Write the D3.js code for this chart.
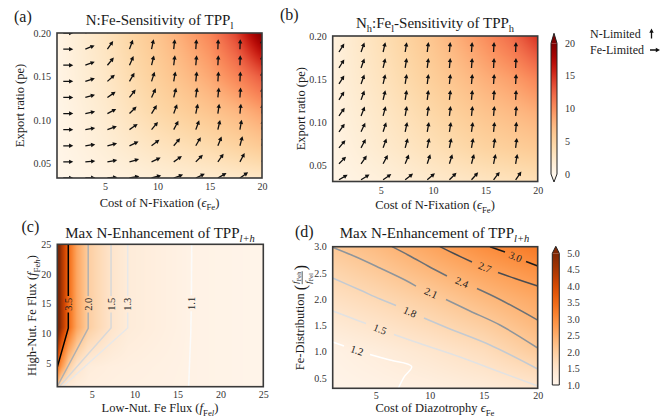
<!DOCTYPE html>
<html>
<head>
<meta charset="utf-8">
<script src="https://cdn.jsdelivr.net/npm/d3@7"></script>
<style>
  body { margin: 0; background: #fff; }
  svg { font-family: "Liberation Serif", "DejaVu Serif", serif; }
</style>
</head>
<body>
<div id="chart"></div>
<script>
// ---- data ----

// quiver grid of panels (a) and (b)
const costEps = [1, 3.11, 5.22, 7.33, 9.44, 11.56, 13.67, 15.78, 17.89, 20];
const exportPe = [0.033, 0.0516, 0.0701, 0.0887, 0.1072, 0.1258, 0.1443, 0.1629, 0.1814, 0.2];

// arrow direction in degrees (0 = Fe-limited / right, 90 = N-limited / up), rows follow exportPe
const angleA = [
  [0, 2, 5, 10, 15, 20, 25, 30, 35, 40],
  [0, 5, 10, 16, 25, 35, 45, 55, 62, 68],
  [0, 8, 15, 25, 38, 50, 60, 68, 75, 78],
  [0, 10, 20, 35, 50, 62, 70, 77, 80, 83],
  [0, 12, 28, 45, 58, 70, 78, 82, 84, 86],
  [0, 15, 35, 52, 65, 76, 82, 84, 86, 87],
  [0, 18, 42, 60, 72, 80, 84, 86, 87, 88],
  [0, 20, 50, 66, 76, 83, 85, 87, 88, 88],
  [0, 22, 55, 70, 78, 84, 86, 88, 88, 89],
  [0, 22, 55, 72, 80, 85, 87, 88, 89, 89]
];
const angleB = [
  [30, 32, 35, 38, 40, 45, 48, 52, 55],
  [45, 55, 62, 68, 72, 73, 75, 78, 80],
  [50, 62, 70, 75, 78, 79, 80, 82, 83],
  [55, 65, 72, 78, 80, 81, 82, 84, 85],
  [55, 68, 75, 80, 82, 83, 84, 85, 86],
  [58, 70, 77, 81, 83, 84, 85, 86, 87],
  [58, 70, 77, 81, 83, 84, 85, 86, 87],
  [58, 70, 77, 81, 83, 85, 86, 87, 88],
  [58, 70, 77, 81, 83, 85, 86, 87, 88],
  [58, 70, 77, 81, 83, 85, 86, 87, 88]
];

// background sensitivity (panels a, b)
const heatXAB = [0.4, 5, 10, 15, 17.5, 20];
const heatYAB = [0.033, 0.07, 0.11, 0.15, 0.2];
const heatA = [
  [0.2, 0.8, 1.5, 2.0, 2.3, 2.6],
  [0.3, 1.5, 3.0, 4.2, 5.0, 6.0],
  [0.3, 2.0, 4.5, 6.5, 7.5, 9.0],
  [0.5, 2.5, 5.5, 8.5, 10.5, 13.0],
  [0.5, 3.0, 6.5, 10.5, 14.0, 20.0]
];
const heatB = [
  [0.4, 1.2, 2.2, 3.0, 3.3, 3.6],
  [0.6, 2.0, 3.5, 5.0, 5.5, 6.0],
  [0.8, 2.5, 4.5, 6.5, 7.2, 8.0],
  [1.0, 3.0, 5.5, 8.0, 9.0, 10.5],
  [1.0, 3.5, 6.5, 10.0, 12.0, 15.0]
];

// panel (c): max N-enhancement vs Fe fluxes
const heatXC = [1, 1.5, 2.3, 3.3, 4.6, 7.3, 9.2, 16.5, 25];
const heatYC = [1, 4.4, 11, 25];
const heatC = [
  [2.1, 1.45, 1.27, 1.22, 1.2, 1.17, 1.15, 1.1, 1.03],
  [3.5, 2.8, 1.98, 1.5, 1.27, 1.2, 1.18, 1.1, 1.03],
  [5.5, 4.5, 3.5, 2.6, 2.0, 1.5, 1.3, 1.1, 1.03],
  [5.5, 4.5, 3.5, 2.6, 2.0, 1.5, 1.3, 1.1, 1.03]
];
const levelsC = ["3.5", "2.0", "1.5", "1.3", "1.1"];
const contourC = [
  [[[2.28, 25], [2.28, 16.3]], [[2.28, 13.5], [2.28, 10.85], [1, 4.3]]],
  [[[4.6, 25], [4.6, 16.3]], [[4.6, 13.5], [4.6, 10.85], [1.05, 1.2]]],
  [[[7.26, 25], [7.26, 16.3]], [[7.26, 13.5], [7.26, 10.9], [1.25, 1.05]]],
  [[[9.2, 25], [9.2, 16.3]], [[9.2, 13.5], [9.2, 10.9], [1.6, 1]]],
  [[[16.66, 25], [16.62, 16.4]], [[16.6, 13.7], [16.55, 10], [16.3, 1]]]
];

// panel (d): max N-enhancement vs diazotrophy cost and Fe distribution
const heatXD = [1, 5, 10, 15, 20];
const heatYD = [0.3, 1.0, 1.5, 2.0, 2.5, 3.0];
const heatD = [
  [1.05, 1.1, 1.18, 1.3, 1.46],
  [1.12, 1.25, 1.45, 1.68, 2.05],
  [1.36, 1.52, 1.75, 2.0, 2.34],
  [1.61, 1.78, 2.02, 2.31, 2.58],
  [1.85, 2.05, 2.33, 2.62, 2.9],
  [2.1, 2.3, 2.63, 2.98, 3.29]
];
const levelsD = ["3.0", "2.7", "2.4", "2.1", "1.8", "1.5", "1.2"];
const contourD = [
  [[[15.58, 3.0], [16.97, 2.899]], [[18.92, 2.718], [20, 2.632]]],
  [[[10.94, 3.0], [12.33, 2.861], [13.91, 2.708]], [[16.32, 2.508], [17.9, 2.394], [20, 2.251]]],
  [[[6.5, 3.0], [8.16, 2.823], [9.83, 2.632], [11.59, 2.441]], [[14.37, 2.203], [16.5, 1.994], [20, 1.6]]],
  [[[1.03, 2.985], [3.07, 2.813], [5.38, 2.594], [7.7, 2.365], [8.72, 2.249]], [[11.5, 1.993], [13.72, 1.774], [16.5, 1.507], [20, 1.068]]],
  [[[1, 2.403], [3.53, 2.174], [5.38, 2.003], [6.87, 1.879]], [[9.46, 1.64], [11.87, 1.431], [15.58, 1.126], [20, 0.668]]],
  [[[1, 1.774], [2.6, 1.65], [4.09, 1.535]], [[6.68, 1.326], [9.09, 1.154], [12.8, 0.897], [16.5, 0.611], [20, 0.344]]],
  [[[1, 1.183], [2.05, 1.107]], [[4.46, 0.944], [6.31, 0.839], [8.32, 0.715], [7.61, 0.515], [7.08, 0.3]]]
];

// tick labels
const ticksCost = [5, 10, 15, 20];
const ticksPe = [0.05, 0.10, 0.15, 0.20];
const ticksFlux = [5, 10, 15, 20, 25];
const ticksDist = [0.5, 1.0, 1.5, 2.0, 2.5, 3.0];
const ticksBarTop = [0, 5, 10, 15, 20];
const ticksBarBottom = [1.0, 1.5, 2.0, 2.5, 3.0, 3.5, 4.0, 4.5, 5.0];

// ---- drawing ----
const W = 664, H = 417;
const svg = d3.select("#chart").append("svg").attr("width", W).attr("height", H);
const defs = svg.append("defs");

const colorOrRd = d3.scaleSequential(d3.interpolateOrRd).domain([0, 20]).clamp(true);
const colorOr = d3.scaleSequential(d3.interpolateOranges).domain([1, 5]).clamp(true);

function bilerp(xs, ys, grid, vx, vy) {
  let i = Math.max(0, Math.min(xs.length - 2, d3.bisectRight(xs, vx) - 1));
  let j = Math.max(0, Math.min(ys.length - 2, d3.bisectRight(ys, vy) - 1));
  let t = Math.max(0, Math.min(1, (vx - xs[i]) / (xs[i + 1] - xs[i])));
  let u = Math.max(0, Math.min(1, (vy - ys[j]) / (ys[j + 1] - ys[j])));
  return (1 - t) * (1 - u) * grid[j][i] + t * (1 - u) * grid[j][i + 1] +
         (1 - t) * u * grid[j + 1][i] + t * u * grid[j + 1][i + 1];
}

function heat(g, x, y, xs, ys, grid, color) {
  const x0 = x.range()[0], y0 = y.range()[1];
  const w = Math.round(x.range()[1] - x0), h = Math.round(y.range()[0] - y0);
  const cv = document.createElement("canvas");
  cv.width = w; cv.height = h;
  const ctx = cv.getContext("2d");
  const img = ctx.createImageData(w, h);
  for (let j = 0; j < h; j++) {
    const vy = y.invert(y0 + j + 0.5);
    for (let i = 0; i < w; i++) {
      const c = d3.rgb(color(bilerp(xs, ys, grid, x.invert(x0 + i + 0.5), vy)));
      const k = (j * w + i) * 4;
      img.data[k] = c.r; img.data[k + 1] = c.g; img.data[k + 2] = c.b; img.data[k + 3] = 255;
    }
  }
  ctx.putImageData(img, 0, 0);
  g.append("image").attr("x", x0).attr("y", y0).attr("width", w).attr("height", h)
    .attr("preserveAspectRatio", "none").attr("href", cv.toDataURL());
}

// rich text: parts = [{t, sub, it}]
function rich(sel, parts, size) {
  let shift = 0;
  parts.forEach(p => {
    const target = p.sub ? size * 0.28 : 0;
    const s = sel.append("tspan").text(p.t).attr("dy", target - shift);
    shift = target;
    if (p.sub) s.attr("font-size", size * 0.7);
    if (p.it) s.attr("font-style", "italic");
  });
  return sel;
}

function panel(cfg) {
  const x = d3.scaleLinear().domain(cfg.xDomain).range([cfg.l, cfg.r]);
  const y = d3.scaleLinear().domain(cfg.yDomain).range([cfg.b, cfg.t]);
  const g = svg.append("g");
  defs.append("clipPath").attr("id", "clip-" + cfg.id).append("rect")
    .attr("x", cfg.l).attr("y", cfg.t).attr("width", cfg.r - cfg.l).attr("height", cfg.b - cfg.t);
  heat(g, x, y, cfg.heatX, cfg.heatY, cfg.heat, cfg.color);
  const inner = g.append("g").attr("clip-path", "url(#clip-" + cfg.id + ")");

  // axes (no tick marks, seaborn-white look)
  const ax = g.append("g").attr("transform", "translate(0," + cfg.b + ")")
    .call(d3.axisBottom(x).tickValues(cfg.xTicks).tickSize(0).tickPadding(cfg.xPad).tickFormat(cfg.xFmt));
  const ay = g.append("g").attr("transform", "translate(" + cfg.l + ",0)")
    .call(d3.axisLeft(y).tickValues(cfg.yTicks).tickSize(0).tickPadding(6).tickFormat(cfg.yFmt));
  [ax, ay].forEach(a => {
    a.attr("font-family", null).attr("font-size", null);
    a.select(".domain").remove();
    a.selectAll("text").attr("font-size", 10).attr("fill", "#333");
  });

  return {x, y, g, inner};
}

function frame(p, cfg) {
  p.g.append("rect").attr("x", cfg.l).attr("y", cfg.t)
    .attr("width", cfg.r - cfg.l).attr("height", cfg.b - cfg.t)
    .attr("fill", "none").attr("stroke", "#3a3a3a").attr("stroke-width", 1.6);
}

function label(x, y, parts, size, opts = {}) {
  const t = svg.append("text").attr("x", x).attr("y", y).attr("font-size", size)
    .attr("fill", "#1a1a1a").attr("text-anchor", opts.anchor || "middle");
  if (opts.rotate) t.attr("transform", "rotate(-90," + x + "," + y + ")");
  return rich(t, parts, size);
}

// arrow shape pointing along +x from the tail
const L = 10, hl = 4.2, hw = 2.2, sw = 0.65;
const arrowPath = `M0,${-sw}L${L - hl},${-sw}L${L - hl},${-hw}L${L},0L${L - hl},${hw}L${L - hl},${sw}L0,${sw}Z`;

function quiver(p, angles) {
  exportPe.forEach((pe, j) => {
    costEps.forEach((c, i) => {
      const a = angles[j][i];
      if (a === undefined) return;
      p.inner.append("path").attr("d", arrowPath).attr("fill", "#111")
        .attr("transform", `translate(${p.x(c)},${p.y(pe)}) rotate(${-a})`);
    });
  });
}

const fmt2 = d3.format(".2f"), fmt1 = d3.format(".1f"), fmt0 = d3.format("d");

// ---------- panel (a) ----------
const cfgA = {id: "a", l: 57, r: 262, t: 33, b: 178, xDomain: [0.4, 20], yDomain: [0.033, 0.2],
  heatX: heatXAB, heatY: heatYAB, heat: heatA, color: colorOrRd, xPad: 5,
  xTicks: ticksCost, yTicks: ticksPe, xFmt: fmt0, yFmt: fmt2};
const pA = panel(cfgA);
quiver(pA, angleA);
frame(pA, cfgA);

// ---------- panel (b) ----------
const cfgB = {id: "b", l: 332.7, r: 537.7, t: 36, b: 181.5, xDomain: [0.4, 20], yDomain: [0.031, 0.2],
  heatX: heatXAB, heatY: heatYAB, heat: heatB, color: colorOrRd, xPad: 5,
  xTicks: ticksCost, yTicks: ticksPe, xFmt: fmt0, yFmt: fmt2};
const pB = panel(cfgB);
quiver(pB, angleB);
frame(pB, cfgB);

// ---------- panel (c) ----------
const cfgC = {id: "c", l: 57.3, r: 263.3, t: 244.3, b: 386.7, xDomain: [1, 25], yDomain: [1, 25],
  heatX: heatXC, heatY: heatYC, heat: heatC, color: colorOr, xPad: 4,
  xTicks: ticksFlux, yTicks: ticksFlux, xFmt: fmt0, yFmt: fmt0};
const pC = panel(cfgC);
const strokeC = ["#000000", "#b0b0b0", "#d8d8d8", "#e8e8e8", "#fbfbfb"];
const lineC = d3.line().x(d => pC.x(d[0])).y(d => pC.y(d[1]));
contourC.forEach((segs, k) => {
  segs.forEach(s => pC.inner.append("path").attr("d", lineC(s)).attr("fill", "none")
    .attr("stroke", strokeC[k]).attr("stroke-width", 1.5));
  const lx = pC.x(segs[0][1][0]), ly = (pC.y(segs[0][1][1]) + pC.y(segs[1][0][1])) / 2;
  pC.inner.append("text").attr("x", lx).attr("y", ly).attr("dy", "0.35em")
    .attr("text-anchor", "middle").attr("font-size", 10.5).attr("fill", "#222")
    .attr("transform", `rotate(-90,${lx},${ly})`).text(levelsC[k]);
});
frame(pC, cfgC);

// ---------- panel (d) ----------
const cfgD = {id: "d", l: 332.7, r: 537.7, t: 246.7, b: 388.3, xDomain: [1, 20], yDomain: [0.3, 3.0],
  heatX: heatXD, heatY: heatYD, heat: heatD, color: colorOr, xPad: 4,
  xTicks: ticksCost, yTicks: ticksDist, xFmt: fmt0, yFmt: fmt1};
const pD = panel(cfgD);
const strokeD = ["#1b1b1b", "#4a4c50", "#6c7176", "#8e959b", "#c3cad2", "#e2e2e2", "#ffffff"];
const lineD = d3.line().x(d => pD.x(d[0])).y(d => pD.y(d[1])).curve(d3.curveCatmullRom.alpha(0.5));
contourD.forEach((segs, k) => {
  segs.forEach(s => pD.inner.append("path").attr("d", lineD(s)).attr("fill", "none")
    .attr("stroke", strokeD[k]).attr("stroke-width", 1.5));
  const a = segs[0][segs[0].length - 1], b = segs[1][0];
  const ax = pD.x(a[0]), ay = pD.y(a[1]), bx = pD.x(b[0]), by = pD.y(b[1]);
  const ang = Math.atan2(by - ay, bx - ax) * 180 / Math.PI;
  const lx = (ax + bx) / 2, ly = (ay + by) / 2;
  pD.inner.append("text").attr("x", lx).attr("y", ly).attr("dy", "0.35em")
    .attr("text-anchor", "middle").attr("font-size", 10.5).attr("fill", "#222")
    .attr("transform", `rotate(${ang},${lx},${ly})`).text(levelsD[k]);
});
frame(pD, cfgD);

// ---------- titles and axis labels ----------
const eps = [{t: "Cost of N-Fixation ("}, {t: "\u03F5", it: 1}, {t: "Fe", sub: 1}, {t: ")"}];
label(14, 21.5, [{t: "(a)"}], 16, {anchor: "start"});
label(280, 20, [{t: "(b)"}], 16, {anchor: "start"});
label(21.5, 231.5, [{t: "(c)"}], 16, {anchor: "start"});
label(295, 236.5, [{t: "(d)"}], 16, {anchor: "start"});

label(159.5, 25, [{t: "N:Fe-Sensitivity of TPP"}, {t: "l", sub: 1}], 15);
label(435, 27.5, [{t: "N"}, {t: "h", sub: 1}, {t: ":Fe"}, {t: "l", sub: 1}, {t: "-Sensitivity of TPP"}, {t: "h", sub: 1}], 15);
label(160, 238, [{t: "Max N-Enhancement of TPP"}, {t: "l+h", sub: 1, it: 1}], 15);
label(434.5, 238, [{t: "Max N-Enhancement of TPP"}, {t: "l+h", sub: 1, it: 1}], 15);

label(159.5, 206.5, eps, 12.5);
label(435, 209, eps, 12.5);
label(24, 105.5, [{t: "Export ratio (pe)"}], 12.5, {rotate: 1});
label(305.5, 108.7, [{t: "Export ratio (pe)"}], 12.5, {rotate: 1});

label(160, 412, [{t: "Low-Nut. Fe Flux ("}, {t: "f", it: 1}, {t: "Fe", sub: 1}, {t: "l", sub: 1, it: 1}, {t: ")"}], 12.5);
label(36, 315.5, [{t: "High-Nut. Fe Flux ("}, {t: "f", it: 1}, {t: "Fe", sub: 1}, {t: "h", sub: 1, it: 1}, {t: ")"}], 12.5, {rotate: 1});
label(435, 412, [{t: "Cost of Diazotrophy "}, {t: "\u03F5", it: 1}, {t: "Fe", sub: 1}], 12.5);

// Fe-Distribution label with a stacked fraction
(function () {
  const gl = svg.append("g").attr("fill", "#1a1a1a");
  const main = gl.append("text").attr("x", 0).attr("y", 0).attr("font-size", 12.5).text("Fe-Distribution");
  const mw = main.node().getComputedTextLength();
  gl.append("text").attr("x", mw + 3).attr("y", 1.5).attr("font-size", 16).text("(");
  const fx = mw + 9.5;
  const num = rich(gl.append("text").attr("x", fx).attr("y", -6).attr("font-size", 9),
    [{t: "f", it: 1}, {t: "Feh", sub: 1}], 9);
  const den = rich(gl.append("text").attr("x", fx).attr("y", 6.8).attr("font-size", 9),
    [{t: "f", it: 1}, {t: "Fel", sub: 1}], 9);
  const fw = Math.max(num.node().getComputedTextLength(), den.node().getComputedTextLength());
  gl.append("line").attr("x1", fx - 0.5).attr("x2", fx + fw + 0.5).attr("y1", -1.8).attr("y2", -1.8)
    .attr("stroke", "#1a1a1a").attr("stroke-width", 0.7);
  gl.append("text").attr("x", fx + fw + 1.5).attr("y", 1.5).attr("font-size", 16).text(")");
  const total = fx + fw + 7;
  gl.attr("transform", `translate(304,${317.5 + total / 2}) rotate(-90)`);
})();

// ---------- colorbars ----------
function colorbar(id, x0, w, scale, color, ticks, fmt, extLow, extHigh, fontSize) {
  const [v0, v1] = scale.domain();
  const yb = scale(v0), yt = scale(v1);
  const grad = defs.append("linearGradient").attr("id", id)
    .attr("x1", 0).attr("y1", 1).attr("x2", 0).attr("y2", 0);
  d3.range(0, 1.0001, 0.05).forEach(t => grad.append("stop")
    .attr("offset", t).attr("stop-color", color(v0 + t * (v1 - v0))));
  svg.append("rect").attr("x", x0).attr("y", yt).attr("width", w).attr("height", yb - yt)
    .attr("fill", `url(#${id})`);
  let outline = `M${x0},${yt}`;
  if (extHigh) {
    svg.append("path").attr("d", `M${x0},${yt}L${x0 + w / 2},${yt - extHigh}L${x0 + w},${yt}Z`).attr("fill", color(v1));
    outline += `L${x0 + w / 2},${yt - extHigh}`;
  }
  outline += `L${x0 + w},${yt}L${x0 + w},${yb}`;
  if (extLow) {
    svg.append("path").attr("d", `M${x0},${yb}L${x0 + w / 2},${yb + extLow}L${x0 + w},${yb}Z`).attr("fill", color(v0));
    outline += `L${x0 + w / 2},${yb + extLow}`;
  }
  outline += `L${x0},${yb}Z`;
  svg.append("path").attr("d", outline).attr("fill", "none").attr("stroke", "#222").attr("stroke-width", 1);
  svg.append("g").selectAll("text").data(ticks).join("text")
    .attr("x", x0 + w + 8).attr("y", d => scale(d)).attr("dy", "0.35em")
    .attr("font-size", fontSize).attr("fill", "#333").text(fmt);
}
colorbar("cbTop", 551, 6, d3.scaleLinear().domain([0, 20]).range([174, 43.3]), colorOrRd,
  ticksBarTop, fmt0, 8, 10, 10);
colorbar("cbBottom", 552.3, 7, d3.scaleLinear().domain([1, 5]).range([385, 253.3]), colorOr,
  ticksBarBottom, fmt1, 0, 7, 10);

// ---------- legend ----------
label(590, 37.5, [{t: "N-Limited"}], 12, {anchor: "start"});
label(590, 54, [{t: "Fe-Limited"}], 12, {anchor: "start"});
svg.append("path").attr("d", arrowPath).attr("fill", "#111").attr("transform", "translate(651.5,38.5) rotate(-90)");
svg.append("path").attr("d", arrowPath).attr("fill", "#111").attr("transform", "translate(650,50)");
</script>
</body>
</html>
